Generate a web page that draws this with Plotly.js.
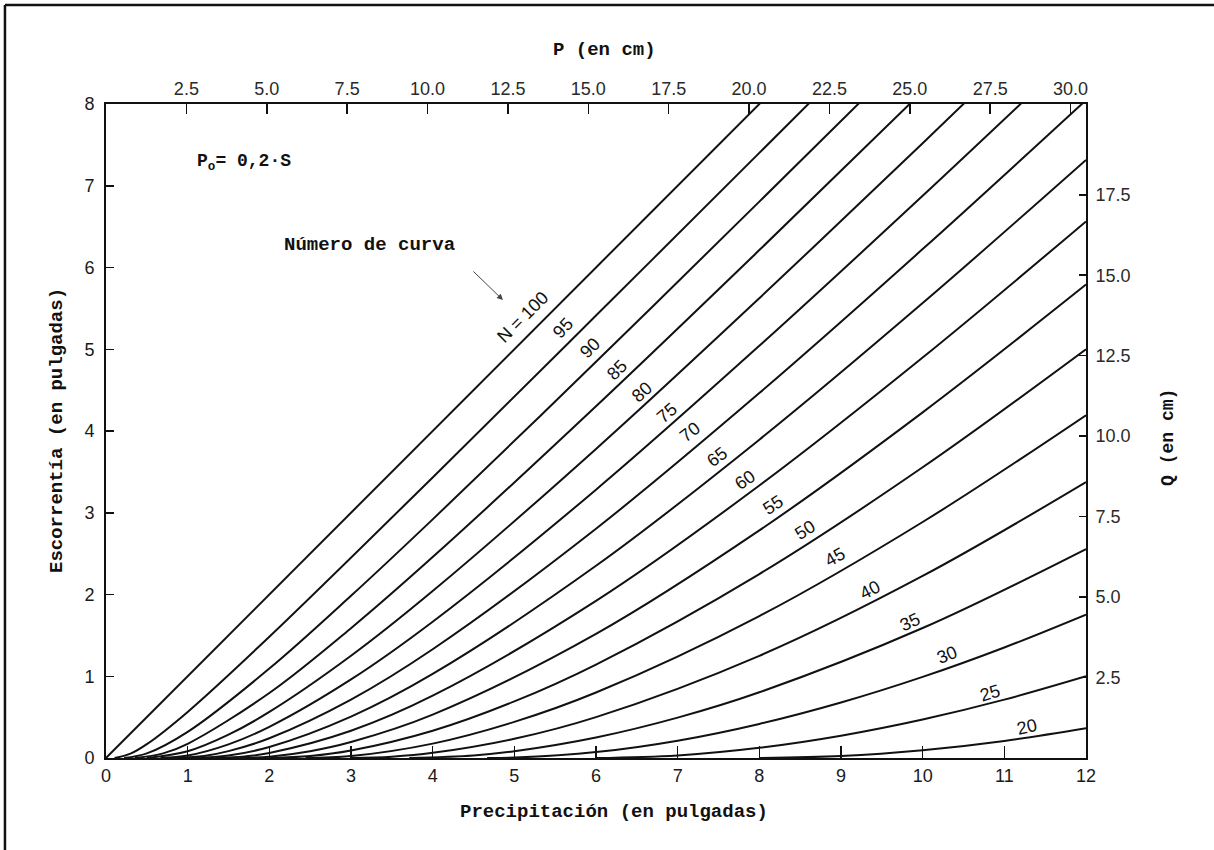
<!DOCTYPE html>
<html>
<head>
<meta charset="utf-8">
<script src="https://cdn.plot.ly/plotly-3.0.1.min.js"></script>
<style>html,body{margin:0;padding:0;background:#fff;}#chart{width:1214px;height:850px;}</style>
</head>
<body>
<div id="chart"></div>
<script>
// ---- Data (P in inches, Q in inches) ----
var curveNumbers = [100, 95, 90, 85, 80, 75, 70, 65, 60, 55, 50, 45, 40, 35, 30, 25, 20];
var curveLabels = ["N = 100", "95", "90", "85", "80", "75", "70", "65", "60", "55", "50", "45", "40", "35", "30", "25", "20"];

var p100 = [0, 8.2];
var q100 = [0, 8.2];
var p95 = [0.105, 0.3, 0.5, 1, 2, 4, 6, 8, 9];
var q95 = [0, 0.053, 0.169, 0.564, 1.483, 3.432, 5.412, 7.402, 8.398];
var p90 = [0.222, 0.5, 1, 2, 3, 4, 6, 8, 9.5];
var q90 = [0, 0.056, 0.320, 1.094, 1.984, 2.919, 4.846, 6.806, 8.285];
var p85 = [0.353, 0.7, 1, 2, 3, 4, 6, 8, 10];
var q85 = [0, 0.057, 0.174, 0.795, 1.588, 2.458, 4.303, 6.213, 8.155];
var p80 = [0.5, 1, 1.5, 2, 3, 4, 6, 8, 10, 11];
var q80 = [0, 0.083, 0.286, 0.563, 1.25, 2.042, 3.781, 5.625, 7.521, 8.481];
var p75 = [0.667, 1, 1.5, 2, 3, 4, 6, 8, 10, 12];
var q75 = [0, 0.030, 0.167, 0.381, 0.961, 1.667, 3.282, 5.042, 6.877, 8.757];
var p70 = [0.857, 1.2, 1.5, 2, 3, 4, 6, 8, 10, 12];
var q70 = [0, 0.025, 0.084, 0.241, 0.714, 1.330, 2.805, 4.464, 6.225, 8.047];
var p65 = [1.077, 1.5, 2, 3, 4, 6, 8, 10, 12];
var q65 = [0, 0.031, 0.135, 0.506, 1.028, 2.351, 3.894, 5.565, 7.316];
var p60 = [1.333, 1.7, 2, 3, 4, 6, 8, 10, 12];
var q60 = [0, 0.019, 0.061, 0.333, 0.762, 1.922, 3.333, 4.899, 6.564];
var p55 = [1.636, 2, 2.5, 3, 4, 6, 8, 10, 12];
var q55 = [0, 0.016, 0.083, 0.195, 0.530, 1.518, 2.784, 4.228, 5.791];
var p50 = [2, 2.5, 3, 4, 5, 6, 8, 10, 12];
var q50 = [0, 0.024, 0.091, 0.333, 0.692, 1.143, 2.25, 3.556, 5.0];
var p45 = [2.444, 3, 4, 5, 6, 8, 10, 12];
var q45 = [0, 0.024, 0.176, 0.442, 0.801, 1.736, 2.887, 4.193];
var p40 = [3, 3.5, 4, 5, 6, 8, 10, 12];
var q40 = [0, 0.016, 0.063, 0.235, 0.5, 1.25, 2.227, 3.375];
var p35 = [3.714, 4.5, 5, 6, 7, 8, 10, 12];
var q35 = [0, 0.032, 0.083, 0.251, 0.494, 0.804, 1.590, 2.556];
var p30 = [4.667, 5, 6, 7, 8, 9, 10, 11, 12];
var q30 = [0, 0.005, 0.072, 0.212, 0.417, 0.679, 0.992, 1.352, 1.754];
var p25 = [6, 7, 8, 9, 10, 11, 12];
var q25 = [0, 0.032, 0.125, 0.273, 0.471, 0.714, 1.0];
var p20 = [8, 9, 10, 11, 12];
var q20 = [0, 0.024, 0.095, 0.209, 0.364];

var inchTicksX = [0, 1, 2, 3, 4, 5, 6, 7, 8, 9, 10, 11, 12];
var inchTicksY = [0, 1, 2, 3, 4, 5, 6, 7, 8];
var cmTicksP = [2.5, 5.0, 7.5, 10.0, 12.5, 15.0, 17.5, 20.0, 22.5, 25.0, 27.5, 30.0];
var cmTicksQ = [2.5, 5.0, 7.5, 10.0, 12.5, 15.0, 17.5];

// ---- Label placement (styling, not data) ----
var labelX = [5.106, 5.596, 5.926, 6.257, 6.563, 6.869, 7.151, 7.482, 7.824, 8.167, 8.559, 8.926, 9.355, 9.845, 10.298, 10.824, 11.277];
var labelY = [5.394, 5.260, 5.015, 4.746, 4.477, 4.220, 3.988, 3.682, 3.401, 3.095, 2.789, 2.459, 2.055, 1.664, 1.260, 0.795, 0.379];
var labelAngle = [-45, -47, -45, -45, -42, -40, -38, -37, -35, -33, -32, -30, -27, -25, -22, -17, -13];

var seriesP = [p100, p95, p90, p85, p80, p75, p70, p65, p60, p55, p50, p45, p40, p35, p30, p25, p20];
var seriesQ = [q100, q95, q90, q85, q80, q75, q70, q65, q60, q55, q50, q45, q40, q35, q30, q25, q20];

var traces = curveNumbers.map(function (cn, i) {
  return {
    x: seriesP[i], y: seriesQ[i], type: 'scatter', mode: 'lines',
    name: 'CN ' + cn,
    line: {color: '#111', width: 2, shape: 'spline', smoothing: 1.0},
    hoverinfo: 'skip', showlegend: false
  };
});
// invisible carriers so that the cm axes (top and right) are drawn
traces.push({x: cmTicksP, y: cmTicksP, xaxis: 'x2', yaxis: 'y', type: 'scatter', mode: 'none',
             hoverinfo: 'skip', showlegend: false});
traces.push({x: cmTicksQ, y: cmTicksQ, xaxis: 'x', yaxis: 'y2', type: 'scatter', mode: 'none',
             hoverinfo: 'skip', showlegend: false});

var tickFont = {family: 'Liberation Sans, Arial, sans-serif', size: 18, color: '#1a1a1a'};
var tickFont2 = {family: 'Liberation Sans, Arial, sans-serif', size: 18, color: '#2a2a2a'};
var monoBold = 'Liberation Mono, Courier New, monospace';

var annotations = curveLabels.map(function (t, i) {
  return {
    x: labelX[i], y: labelY[i], xref: 'x', yref: 'y', text: t, showarrow: false,
    textangle: labelAngle[i], xanchor: 'center', yanchor: 'middle',
    font: {family: 'Liberation Sans, Arial, sans-serif', size: 18, color: '#111'}
  };
});

annotations.push(
  {x: 1.09, y: 7.28, xref: 'x', yref: 'y', xanchor: 'left', yanchor: 'middle', showarrow: false,
   text: '<b>P<sub>o</sub>= 0,2·S</b>', font: {family: monoBold, size: 18, color: '#111'}},
  {x: 2.155, y: 6.275, xref: 'x', yref: 'y', xanchor: 'left', yanchor: 'middle', showarrow: false,
   text: '<b>Número de curva</b>', font: {family: monoBold, size: 19, color: '#111'}},
  {x: 4.861, y: 5.602, xref: 'x', yref: 'y', text: '', showarrow: true, ax: -31, ay: -30,
   arrowhead: 2, arrowsize: 1.2, arrowwidth: 1, arrowcolor: '#444', standoff: 0},
  {x: 0.518, y: -0.083, xref: 'paper', yref: 'paper', showarrow: false, yanchor: 'middle',
   text: '<b>Precipitación (en pulgadas)</b>', font: {family: monoBold, size: 19, color: '#111'}},
  {x: 0.509, y: 1.083, xref: 'paper', yref: 'paper', showarrow: false, yanchor: 'middle',
   text: '<b>P (en cm)</b>', font: {family: monoBold, size: 19, color: '#111'}},
  {x: -0.05, y: 0.5, xref: 'paper', yref: 'paper', showarrow: false, textangle: -90,
   xanchor: 'center', yanchor: 'middle',
   text: '<b>Escorrentía (en pulgadas)</b>', font: {family: monoBold, size: 19, color: '#111'}},
  {x: 1.083, y: 0.49, xref: 'paper', yref: 'paper', showarrow: false, textangle: -90,
   xanchor: 'center', yanchor: 'middle',
   text: '<b>Q (en cm)</b>', font: {family: monoBold, size: 18, color: '#111'}}
);

var layout = {
  width: 1214, height: 850,
  margin: {l: 106, r: 128, t: 104, b: 92, pad: 0},
  paper_bgcolor: '#fff', plot_bgcolor: '#fff',
  showlegend: false,
  xaxis: {range: [0, 12], tickvals: inchTicksX, ticks: 'inside', ticklen: 12, tickwidth: 1.5,
          tickcolor: '#111', showline: true, linecolor: '#111', linewidth: 2, showgrid: false,
          zeroline: false, tickfont: tickFont, fixedrange: true},
  yaxis: {range: [0, 8], tickvals: inchTicksY, ticks: 'inside', ticklen: 8, tickwidth: 1.5,
          tickcolor: '#111', showline: true, linecolor: '#111', linewidth: 2, showgrid: false,
          zeroline: false, tickfont: tickFont, ticklabelstandoff: 6, fixedrange: true},
  xaxis2: {range: [0, 30.48], overlaying: 'x', side: 'top', anchor: 'y', tickvals: cmTicksP,
           tickformat: '.1f', ticks: 'inside', ticklen: 10, tickwidth: 1.5, tickcolor: '#111',
           showline: true, linecolor: '#111', linewidth: 2, showgrid: false, zeroline: false,
           tickfont: tickFont2, fixedrange: true},
  yaxis2: {range: [0, 20.32], overlaying: 'y', side: 'right', anchor: 'x', tickvals: cmTicksQ,
           tickformat: '.1f', ticks: 'inside', ticklen: 7, tickwidth: 1.5, tickcolor: '#111',
           showline: true, linecolor: '#111', linewidth: 2, showgrid: false, zeroline: false,
           tickfont: tickFont2, ticklabelstandoff: 4, fixedrange: true},
  annotations: annotations,
  shapes: [
    {type: 'line', xref: 'paper', yref: 'paper', x0: -0.1031, x1: -0.1031, y0: -0.2, y1: 1.1514,
     line: {color: '#111', width: 2.5}},
    {type: 'line', xref: 'paper', yref: 'paper', x0: -0.1031, x1: 1.2, y0: 1.1514, y1: 1.1514,
     line: {color: '#111', width: 2.5}}
  ]
};

Plotly.newPlot('chart', traces, layout, {staticPlot: true, displayModeBar: false});
</script>
</body>
</html>
